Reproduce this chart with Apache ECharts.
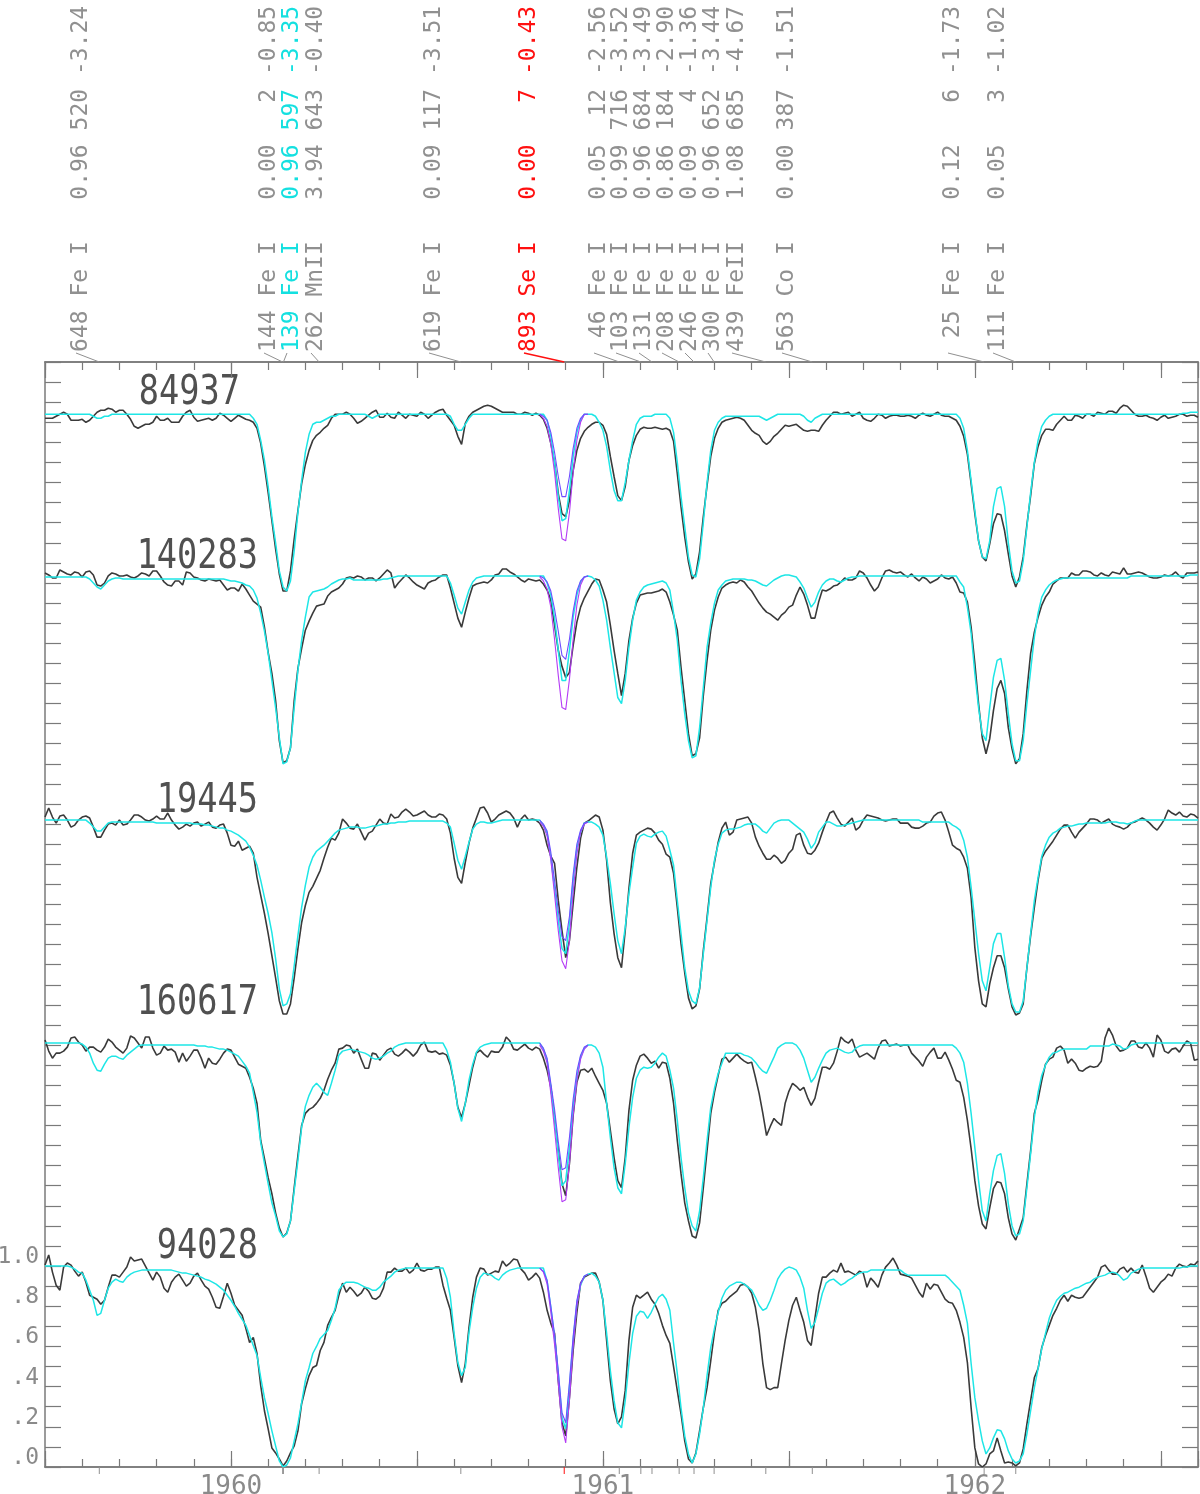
<!DOCTYPE html>
<html>
<head>
<meta charset="utf-8">
<title>Se I 1960.9 nm</title>
<script src="https://cdn.jsdelivr.net/npm/echarts@6/dist/echarts.min.js"></script>
<style>
html, body { margin: 0; padding: 0; background: #fff; }
#box-view { width: 1200px; height: 1494px; }
</style>
</head>
<body>
<div id="box-view"></div>
<script>
// wavelength grid of all spectra (nm)
const waveStart = 1959.50;
const waveStep = 0.01;

const starNames = ['84937', '140283', '19445', '160617', '94028'];
const starOffsets = [4.25, 3.44, 2.22, 1.11, 0];

// observed, normalised flux
const obs84937 = [
0.97,0.97,0.97,0.98,0.99,1.0,0.99,0.96,0.96,0.96,
0.965,0.95,0.96,0.98,1.0,1.01,1.01,1.02,1.015,1.0,
1.01,1.01,0.99,0.965,0.93,0.92,0.93,0.94,0.94,0.95,
0.98,0.96,0.96,0.97,0.95,0.95,0.95,0.98,1.0,1.01,
0.975,0.955,0.96,0.965,0.97,0.96,0.97,0.995,0.985,0.97,
0.955,0.97,0.985,0.975,0.965,0.96,0.95,0.92,0.845,0.73,
0.60,0.46,0.32,0.195,0.11,0.11,0.21,0.37,0.51,0.645,
0.74,0.81,0.86,0.885,0.90,0.92,0.935,0.97,0.99,0.99,
0.99,1.0,0.99,0.97,0.945,0.955,0.97,0.985,1.0,1.01,
0.975,0.975,0.995,0.975,0.97,1.0,0.985,0.97,0.99,0.985,
0.98,1.0,0.99,0.97,0.985,1.0,1.01,1.015,0.985,0.96,
0.935,0.88,0.84,0.945,0.98,1.0,1.01,1.02,1.03,1.035,
1.03,1.02,1.01,1.0,1.0,1.0,1.0,0.99,0.99,1.0,
0.995,0.985,0.995,0.985,0.965,0.92,0.845,0.75,0.595,0.495,
0.48,0.56,0.71,0.81,0.87,0.905,0.925,0.94,0.95,0.95,
0.935,0.89,0.78,0.68,0.585,0.56,0.63,0.76,0.835,0.885,
0.915,0.925,0.92,0.92,0.925,0.92,0.915,0.92,0.91,0.855,
0.695,0.53,0.38,0.255,0.17,0.195,0.305,0.48,0.635,0.78,
0.87,0.92,0.95,0.96,0.965,0.97,0.975,0.97,0.96,0.935,
0.91,0.895,0.885,0.855,0.84,0.855,0.88,0.895,0.915,0.935,
0.93,0.935,0.94,0.925,0.91,0.905,0.91,0.91,0.905,0.935,
0.96,0.98,1.0,1.0,0.99,0.995,1.0,0.98,0.99,1.0,
0.97,0.96,0.955,0.97,0.99,0.985,0.97,0.98,0.985,0.985,
0.98,0.98,0.985,0.98,0.97,0.985,0.995,0.985,0.98,0.99,
1.0,0.985,0.98,0.98,0.97,0.96,0.93,0.88,0.79,0.645,
0.495,0.36,0.28,0.26,0.345,0.445,0.495,0.49,0.41,0.295,
0.185,0.13,0.18,0.28,0.44,0.585,0.745,0.83,0.885,0.915,
0.915,0.91,0.94,0.96,0.98,0.96,0.96,0.985,0.98,0.97,
0.99,0.99,0.98,1.0,0.995,0.99,1.005,1.005,0.995,1.02,
1.035,1.03,1.01,0.99,0.98,0.98,0.985,0.975,0.97,0.96,
0.975,0.985,0.97,0.975,0.98,0.99,0.99,0.98,0.985,0.985,0.975
];
const obs140283 = [
1.01,1.0,0.985,0.985,1.025,1.015,1.005,1.0,1.015,1.01,
0.99,1.015,1.02,1.0,0.95,0.945,0.96,0.995,1.01,1.005,
0.995,0.995,1.0,0.99,0.985,0.995,1.01,1.005,0.995,1.02,
1.02,0.995,0.965,0.95,0.945,0.97,0.97,0.95,1.015,1.01,
0.99,0.985,0.975,0.97,0.98,0.975,0.97,0.975,0.95,0.925,
0.935,0.935,0.92,0.955,0.93,0.90,0.87,0.855,0.84,0.74,
0.615,0.51,0.375,0.175,0.065,0.075,0.14,0.375,0.535,0.635,
0.725,0.77,0.81,0.845,0.85,0.855,0.895,0.915,0.925,0.935,
0.955,0.985,0.99,0.985,0.995,0.99,0.975,0.985,0.985,0.97,
0.985,1.005,1.025,1.01,0.935,0.96,0.98,1.0,0.985,0.965,
0.95,0.94,0.93,0.96,0.97,0.975,0.99,1.0,1.0,0.935,
0.86,0.785,0.74,0.815,0.885,0.945,0.955,0.96,0.965,0.96,
0.975,1.0,1.005,1.03,1.03,1.015,1.005,0.99,0.975,0.965,
0.98,0.975,0.97,0.975,0.955,0.925,0.875,0.75,0.625,0.545,
0.49,0.515,0.65,0.765,0.84,0.885,0.92,0.955,0.98,0.975,
0.925,0.865,0.75,0.625,0.51,0.40,0.51,0.675,0.785,0.86,
0.90,0.905,0.91,0.91,0.915,0.92,0.93,0.915,0.865,0.80,
0.725,0.54,0.375,0.21,0.10,0.11,0.19,0.40,0.575,0.725,
0.825,0.89,0.935,0.95,0.96,0.965,0.96,0.975,0.965,0.94,
0.92,0.89,0.86,0.835,0.815,0.805,0.79,0.775,0.80,0.815,
0.84,0.85,0.90,0.94,0.905,0.85,0.785,0.785,0.865,0.925,
0.92,0.93,0.945,0.95,0.965,0.985,0.975,0.975,0.985,1.02,
1.01,0.985,0.95,0.92,0.94,0.985,1.02,1.025,1.015,1.01,
1.015,1.0,0.99,1.005,0.985,0.97,0.99,0.98,0.96,0.97,
0.98,1.0,0.985,0.98,0.99,0.96,0.915,0.91,0.865,0.74,
0.56,0.36,0.19,0.11,0.185,0.325,0.435,0.475,0.41,0.24,
0.135,0.06,0.085,0.21,0.425,0.61,0.715,0.79,0.85,0.89,
0.915,0.955,0.97,0.985,0.985,0.985,1.01,1.0,1.0,1.02,
1.02,1.015,1.0,0.995,1.01,1.0,0.995,1.015,1.01,1.005,
1.035,1.005,1.005,1.01,1.015,1.01,1.0,0.99,0.985,0.985,
0.99,1.0,0.995,1.0,1.015,0.995,0.985,1.01,1.01,1.01,1.015
];
const obs19445 = [
1.015,1.06,1.015,0.985,1.02,1.025,1.0,0.965,0.975,1.0,
1.015,1.02,1.01,0.965,0.915,0.915,0.95,0.98,0.985,0.975,
1.0,0.975,0.98,1.0,1.025,1.025,1.015,1.0,0.995,1.005,
1.02,1.005,1.005,1.035,1.0,0.975,0.955,0.965,0.98,0.97,
0.985,0.99,0.97,0.98,0.99,0.965,0.96,0.975,0.98,0.935,
0.875,0.87,0.895,0.85,0.86,0.87,0.835,0.715,0.625,0.535,
0.435,0.325,0.215,0.10,0.035,0.035,0.085,0.215,0.36,0.49,
0.575,0.64,0.67,0.71,0.75,0.81,0.865,0.91,0.90,0.935,
1.005,0.985,0.96,0.955,0.98,0.94,0.90,0.935,0.945,0.975,
1.005,0.985,0.98,1.03,1.01,1.015,1.04,1.055,1.04,1.02,
1.025,1.035,1.045,1.025,1.015,1.015,1.03,1.025,1.005,0.935,
0.81,0.715,0.685,0.79,0.885,0.96,1.01,1.06,1.065,1.035,
0.99,1.005,1.025,1.035,1.045,1.035,1.01,0.965,1.005,1.025,
1.0,1.005,1.0,0.985,0.95,0.875,0.82,0.785,0.60,0.45,
0.315,0.40,0.585,0.765,0.91,0.985,0.995,1.01,1.025,1.015,
0.95,0.80,0.59,0.435,0.315,0.265,0.45,0.66,0.835,0.925,
0.94,0.95,0.96,0.955,0.935,0.90,0.88,0.83,0.815,0.735,
0.565,0.385,0.24,0.115,0.06,0.075,0.16,0.35,0.515,0.685,
0.79,0.89,0.96,0.99,0.925,0.94,1.0,1.005,1.01,1.015,
0.985,0.915,0.87,0.835,0.805,0.805,0.825,0.81,0.785,0.80,
0.835,0.855,0.925,0.935,0.875,0.835,0.83,0.85,0.885,0.94,
0.99,1.035,1.045,1.01,0.98,0.97,0.99,1.01,0.95,0.965,
1.0,1.025,1.02,1.015,1.01,1.0,0.995,1.0,1.005,1.005,
0.985,0.985,0.985,0.965,0.96,0.96,0.97,0.985,0.99,1.02,
1.035,1.04,1.0,0.94,0.875,0.86,0.85,0.815,0.76,0.615,
0.365,0.20,0.085,0.07,0.185,0.265,0.325,0.325,0.265,0.16,
0.07,0.03,0.04,0.085,0.265,0.425,0.565,0.70,0.81,0.845,
0.87,0.895,0.925,0.955,0.975,0.975,0.94,0.91,0.94,0.96,
0.98,1.005,1.005,1.0,0.985,0.995,1.005,0.98,0.97,0.965,
0.955,0.965,0.985,0.99,1.0,1.01,1.0,0.985,0.965,0.95,
0.975,1.005,1.05,1.035,1.025,1.04,1.02,1.015,1.03,1.025,1.01
];
const obs160617 = [
1.015,0.96,0.925,0.95,0.95,0.96,0.98,1.025,1.03,1.005,
0.99,0.96,0.98,0.98,0.965,0.955,0.98,1.02,1.005,0.98,
0.965,0.95,0.975,1.035,1.025,1.0,0.975,1.03,1.03,0.975,
0.94,0.95,0.985,0.965,0.97,0.955,0.905,0.95,0.91,0.935,
0.965,0.965,0.925,0.875,0.925,0.90,0.895,0.92,0.95,0.97,
0.965,0.93,0.895,0.885,0.875,0.83,0.775,0.70,0.515,0.425,
0.33,0.25,0.155,0.08,0.035,0.055,0.115,0.28,0.44,0.59,
0.65,0.67,0.68,0.70,0.725,0.765,0.82,0.865,0.90,0.97,
0.975,0.99,0.985,0.95,0.97,0.92,0.875,0.875,0.95,0.945,
0.915,0.94,0.965,0.975,0.945,0.935,0.95,0.97,0.955,0.935,
0.955,0.99,1.005,0.96,0.955,0.96,0.945,0.95,0.94,0.89,
0.80,0.68,0.63,0.70,0.79,0.88,0.95,0.965,0.945,0.93,
0.96,0.955,0.955,0.98,1.03,1.01,0.97,0.965,0.98,0.995,
0.975,0.965,0.98,0.97,0.925,0.865,0.78,0.63,0.465,0.30,
0.24,0.40,0.64,0.805,0.865,0.87,0.855,0.875,0.835,0.80,
0.765,0.70,0.565,0.43,0.315,0.28,0.43,0.665,0.815,0.89,
0.935,0.945,0.925,0.90,0.91,0.875,0.905,0.90,0.825,0.70,
0.515,0.35,0.205,0.115,0.04,0.03,0.105,0.28,0.465,0.65,
0.755,0.84,0.92,0.93,0.905,0.925,0.945,0.925,0.91,0.90,
0.905,0.83,0.75,0.65,0.54,0.585,0.625,0.605,0.59,0.70,
0.76,0.80,0.785,0.765,0.78,0.73,0.69,0.725,0.805,0.88,
0.88,0.87,0.90,0.96,1.03,1.01,1.0,1.02,0.965,0.93,
0.94,0.95,0.935,0.92,0.975,1.01,1.015,0.985,0.99,0.995,
0.985,0.99,0.99,0.95,0.93,0.91,0.885,0.93,0.955,0.975,
0.925,0.925,0.955,0.915,0.87,0.815,0.805,0.73,0.615,0.475,
0.315,0.19,0.10,0.075,0.18,0.275,0.31,0.305,0.25,0.13,
0.05,0.02,0.075,0.13,0.30,0.465,0.65,0.72,0.815,0.895,
0.92,0.93,0.975,0.985,0.965,0.90,0.92,0.90,0.865,0.86,
0.875,0.885,0.88,0.885,0.91,1.025,1.075,1.04,0.985,0.96,
0.965,0.975,1.01,1.01,0.98,0.975,1.0,0.975,0.93,1.04,
1.015,0.96,0.95,0.97,0.975,0.955,0.985,1.01,1.0,0.915,0.92
];
const obs94028 = [
1.005,1.055,0.97,0.905,0.88,0.995,1.015,1.005,0.975,0.95,
0.97,0.92,0.855,0.845,0.835,0.81,0.83,0.895,0.955,0.955,
0.945,0.97,0.995,1.045,1.025,1.03,1.035,1.0,0.965,0.93,
0.97,0.945,0.89,0.87,0.92,0.945,0.96,0.93,0.90,0.915,
0.95,0.965,0.93,0.90,0.885,0.845,0.795,0.79,0.85,0.915,
0.865,0.805,0.78,0.755,0.69,0.62,0.645,0.565,0.405,0.28,
0.19,0.095,0.07,0.04,0.005,0.03,0.07,0.105,0.18,0.315,
0.39,0.455,0.495,0.505,0.58,0.62,0.705,0.745,0.78,0.855,
0.915,0.87,0.895,0.875,0.85,0.865,0.895,0.875,0.84,0.835,
0.85,0.89,0.97,0.97,0.99,0.975,0.975,0.99,0.965,0.98,
1.015,0.98,0.975,0.985,0.985,0.995,0.995,0.905,0.84,0.78,
0.645,0.505,0.42,0.515,0.695,0.845,0.945,0.99,0.985,0.955,
0.965,0.975,0.97,1.025,1.0,1.015,1.035,1.03,0.985,0.965,
0.93,0.945,0.965,0.94,0.87,0.78,0.715,0.665,0.43,0.22,
0.155,0.345,0.58,0.77,0.915,0.945,0.955,0.965,0.965,0.92,
0.83,0.63,0.43,0.29,0.215,0.25,0.38,0.63,0.795,0.855,
0.84,0.855,0.87,0.835,0.81,0.765,0.705,0.655,0.615,0.50,
0.38,0.265,0.13,0.04,0.02,0.07,0.18,0.295,0.395,0.53,
0.67,0.78,0.815,0.825,0.845,0.86,0.875,0.905,0.91,0.895,
0.865,0.795,0.68,0.515,0.395,0.385,0.395,0.395,0.515,0.63,
0.73,0.805,0.845,0.78,0.72,0.63,0.605,0.74,0.865,0.945,
0.945,0.965,0.98,0.97,1.015,0.97,0.975,0.965,0.955,0.975,
0.965,0.895,0.94,0.92,0.895,0.955,0.995,1.015,1.04,1.005,
0.96,0.955,0.95,0.94,0.905,0.87,0.845,0.915,0.885,0.91,
0.905,0.87,0.835,0.82,0.815,0.78,0.72,0.645,0.52,0.295,
0.095,0.015,0.0,0.015,0.065,0.08,0.145,0.08,0.02,0.025,
0.02,0.005,0.02,0.09,0.215,0.33,0.445,0.49,0.595,0.655,
0.705,0.755,0.79,0.83,0.855,0.825,0.855,0.845,0.84,0.845,
0.87,0.895,0.92,0.945,0.995,1.005,0.98,0.96,0.96,0.985,
0.995,0.97,0.99,0.97,0.965,1.005,0.95,0.89,0.87,0.895,
0.92,0.935,0.96,0.95,0.99,1.01,1.0,0.995,1.01,1.005,1.025
];

// best synthetic spectrum
const syn84937 = [
0.99,0.99,0.99,0.99,0.99,0.99,0.99,0.99,0.99,0.99,
0.99,0.99,0.99,0.98,0.97,0.97,0.98,0.98,0.99,0.99,
0.99,0.99,0.99,0.99,0.99,0.99,0.99,0.99,0.99,0.99,
0.99,0.99,0.99,0.99,0.99,0.99,0.99,0.99,0.99,0.99,
0.99,0.99,0.99,0.99,0.99,0.99,0.99,0.99,0.99,0.99,
0.99,0.99,0.99,0.99,0.99,0.99,0.97,0.94,0.86,0.76,
0.63,0.48,0.35,0.21,0.13,0.11,0.16,0.31,0.50,0.66,
0.80,0.89,0.94,0.95,0.95,0.96,0.97,0.98,0.98,0.99,
0.99,0.99,0.99,0.99,0.99,0.99,0.99,0.98,0.97,0.98,
0.99,0.99,0.99,0.99,0.99,0.99,0.99,0.99,0.99,0.99,
0.99,0.99,0.99,0.99,0.99,0.99,0.99,0.99,0.99,0.98,
0.94,0.91,0.91,0.94,0.97,0.99,0.99,0.99,0.99,0.99,
0.99,0.99,0.99,0.99,0.99,0.99,0.99,0.99,0.99,0.99,
0.99,0.99,0.99,0.99,0.99,0.96,0.88,0.75,0.58,0.46,
0.47,0.61,0.78,0.90,0.96,0.99,0.99,0.99,0.98,0.95,
0.91,0.83,0.71,0.61,0.56,0.56,0.65,0.76,0.86,0.94,
0.97,0.98,0.98,0.98,0.99,0.99,0.99,0.99,0.97,0.90,
0.75,0.58,0.43,0.28,0.19,0.18,0.27,0.45,0.65,0.81,
0.91,0.95,0.97,0.98,0.98,0.98,0.98,0.98,0.98,0.98,
0.98,0.98,0.98,0.97,0.96,0.97,0.98,0.99,0.99,0.99,
0.99,0.99,0.99,0.99,0.98,0.96,0.95,0.97,0.98,0.99,
0.99,0.99,0.99,0.99,0.99,0.99,0.99,0.99,0.99,0.99,
0.99,0.99,0.99,0.99,0.99,0.99,0.99,0.99,0.99,0.99,
0.99,0.99,0.99,0.99,0.99,0.99,0.99,0.99,0.99,0.99,
0.99,0.99,0.99,0.99,0.99,0.99,0.97,0.92,0.81,0.66,
0.51,0.36,0.28,0.27,0.36,0.53,0.62,0.63,0.53,0.35,
0.21,0.15,0.16,0.26,0.43,0.60,0.75,0.86,0.93,0.96,
0.98,0.99,0.99,0.99,0.99,0.99,0.99,0.99,0.99,0.99,
0.99,0.99,0.99,0.99,0.99,0.99,0.99,0.99,0.99,0.99,
0.99,0.99,0.99,0.99,0.99,0.99,0.99,0.99,0.99,0.99,
0.99,0.99,0.99,0.99,0.99,0.99,0.995,0.995,1.0,1.0,1.0
];
const syn140283 = [
0.99,0.99,0.99,0.99,0.99,0.99,0.99,0.99,0.99,0.99,
0.99,0.99,0.98,0.96,0.94,0.93,0.95,0.97,0.98,0.985,
0.985,0.98,0.98,0.98,0.98,0.98,0.98,0.98,0.98,0.98,
0.98,0.98,0.98,0.98,0.98,0.98,0.98,0.98,0.98,0.98,
0.98,0.98,0.98,0.98,0.98,0.98,0.98,0.98,0.98,0.975,
0.97,0.97,0.965,0.96,0.95,0.945,0.925,0.885,0.81,0.72,
0.61,0.475,0.34,0.19,0.06,0.07,0.14,0.34,0.525,0.675,
0.79,0.89,0.915,0.92,0.925,0.93,0.94,0.955,0.965,0.975,
0.98,0.98,0.985,0.975,0.975,0.975,0.975,0.975,0.975,0.975,
0.975,0.98,0.98,0.985,0.99,0.995,0.995,0.995,0.995,0.995,
0.995,0.995,0.995,0.995,0.995,0.995,0.995,0.995,0.995,0.96,
0.90,0.835,0.805,0.865,0.925,0.965,0.985,0.99,0.995,0.995,
0.995,0.995,0.995,0.995,0.995,0.995,0.995,0.995,0.995,0.995,
0.995,0.995,0.995,0.995,0.995,0.96,0.90,0.785,0.625,0.475,
0.475,0.625,0.79,0.90,0.965,0.99,0.995,0.99,0.975,0.945,
0.875,0.775,0.64,0.515,0.39,0.36,0.475,0.64,0.775,0.875,
0.915,0.94,0.95,0.955,0.96,0.965,0.97,0.96,0.925,0.81,
0.675,0.475,0.31,0.175,0.09,0.10,0.24,0.44,0.64,0.76,
0.86,0.925,0.95,0.97,0.975,0.98,0.98,0.98,0.98,0.975,
0.975,0.97,0.96,0.95,0.945,0.96,0.975,0.985,0.995,1.0,
1.0,0.995,0.99,0.965,0.935,0.885,0.84,0.865,0.915,0.95,
0.97,0.98,0.98,0.97,0.965,0.975,0.985,0.99,0.99,0.995,
0.995,0.995,0.995,0.995,0.995,0.995,0.995,0.995,0.995,0.995,
0.995,0.995,0.995,0.995,0.995,0.995,0.995,0.995,0.995,0.995,
0.995,0.995,0.995,0.995,0.995,0.995,0.965,0.94,0.84,0.71,
0.51,0.34,0.21,0.175,0.34,0.49,0.575,0.585,0.475,0.31,
0.16,0.075,0.075,0.175,0.36,0.525,0.69,0.81,0.89,0.925,
0.95,0.965,0.975,0.98,0.985,0.985,0.985,0.985,0.985,0.985,
0.985,0.985,0.985,0.985,0.985,0.985,0.985,0.985,0.985,0.985,
0.985,0.985,0.995,0.995,0.995,0.995,0.995,0.995,0.995,0.995,
0.995,0.995,0.995,0.995,0.995,0.995,0.995,0.995,1.0,1.0,1.0
];
const syn19445 = [
1.0,1.0,1.0,1.0,1.0,1.0,1.0,1.0,1.0,1.0,
1.0,1.0,0.985,0.965,0.945,0.945,0.965,0.985,0.99,0.99,
0.99,0.99,0.99,0.99,0.99,0.99,0.99,0.99,0.99,0.99,
0.985,0.985,0.985,0.985,0.985,0.985,0.985,0.985,0.985,0.985,
0.98,0.98,0.98,0.975,0.975,0.97,0.965,0.96,0.96,0.95,
0.945,0.935,0.925,0.91,0.895,0.865,0.825,0.775,0.70,0.615,
0.535,0.44,0.31,0.16,0.075,0.085,0.135,0.275,0.425,0.565,
0.675,0.765,0.815,0.845,0.86,0.875,0.895,0.915,0.935,0.95,
0.955,0.96,0.965,0.965,0.965,0.96,0.96,0.965,0.97,0.97,
0.975,0.98,0.98,0.985,0.985,0.99,0.99,0.99,0.995,0.995,
0.995,0.995,0.995,0.995,0.995,0.995,0.995,0.995,0.985,0.965,
0.885,0.80,0.755,0.82,0.89,0.955,0.98,0.99,0.99,0.985,
0.985,0.99,0.995,1.0,1.0,1.0,1.0,1.0,1.0,1.0,
1.0,1.0,1.0,1.0,0.975,0.935,0.815,0.66,0.50,0.36,
0.335,0.485,0.70,0.86,0.94,0.985,0.99,0.99,0.98,0.965,
0.925,0.815,0.685,0.535,0.40,0.335,0.465,0.635,0.765,0.885,
0.92,0.93,0.92,0.915,0.93,0.94,0.945,0.92,0.85,0.775,
0.60,0.435,0.265,0.15,0.10,0.085,0.165,0.335,0.50,0.665,
0.80,0.88,0.935,0.95,0.955,0.955,0.96,0.965,0.975,0.98,
0.98,0.98,0.965,0.945,0.935,0.96,0.985,0.995,1.0,1.0,
1.0,0.985,0.97,0.955,0.94,0.905,0.86,0.885,0.94,0.965,
0.99,0.99,0.98,0.97,0.97,0.975,0.98,0.985,0.99,0.995,
1.0,1.0,1.0,1.0,1.0,1.0,1.0,1.0,1.0,1.0,
1.0,1.0,1.0,1.0,1.0,1.0,0.99,0.99,0.99,0.99,
0.99,0.99,0.99,0.99,0.975,0.965,0.95,0.90,0.815,0.665,
0.50,0.335,0.20,0.15,0.265,0.385,0.435,0.435,0.315,0.175,
0.085,0.045,0.045,0.10,0.265,0.435,0.60,0.715,0.82,0.875,
0.915,0.935,0.945,0.96,0.965,0.97,0.97,0.975,0.98,0.98,
0.985,0.985,0.985,0.985,0.985,0.985,0.99,0.99,0.99,0.985,
0.985,0.98,0.985,0.995,1.0,1.0,1.0,1.0,1.0,1.0,
1.0,1.0,1.0,1.0,1.0,1.0,1.0,1.0,1.0,1.0,1.0
];
const syn160617 = [
1.0,1.0,1.0,1.0,1.0,1.0,1.0,1.0,1.0,1.0,
0.995,0.98,0.95,0.90,0.865,0.86,0.895,0.925,0.935,0.935,
0.925,0.92,0.94,0.955,0.97,0.985,0.99,0.99,0.99,0.99,
0.99,0.99,0.99,0.99,0.99,0.99,0.99,0.99,0.99,0.99,
0.99,0.985,0.985,0.985,0.98,0.98,0.975,0.97,0.97,0.965,
0.955,0.945,0.935,0.91,0.885,0.85,0.755,0.655,0.505,0.40,
0.30,0.205,0.14,0.065,0.035,0.05,0.115,0.265,0.415,0.58,
0.685,0.74,0.78,0.80,0.78,0.755,0.74,0.80,0.865,0.94,
0.96,0.965,0.97,0.965,0.96,0.955,0.95,0.94,0.925,0.92,
0.925,0.935,0.95,0.96,0.98,0.99,0.995,1.0,1.0,1.0,
1.0,1.0,1.0,1.0,1.0,1.0,1.0,1.0,0.965,0.905,
0.80,0.675,0.61,0.70,0.815,0.895,0.955,0.98,0.99,0.995,
1.0,1.0,1.0,1.0,1.0,1.0,1.0,1.0,1.0,1.0,
1.0,1.0,1.0,1.0,0.97,0.915,0.78,0.63,0.45,0.29,
0.315,0.48,0.69,0.83,0.93,0.975,0.99,0.99,0.98,0.95,
0.88,0.70,0.53,0.38,0.28,0.25,0.40,0.58,0.73,0.825,
0.865,0.88,0.875,0.88,0.90,0.93,0.95,0.935,0.865,0.775,
0.615,0.43,0.28,0.155,0.09,0.065,0.165,0.33,0.515,0.68,
0.775,0.85,0.90,0.95,0.95,0.95,0.95,0.95,0.94,0.935,
0.925,0.905,0.88,0.86,0.85,0.89,0.93,0.975,0.99,1.0,
1.0,1.0,0.99,0.965,0.925,0.865,0.805,0.83,0.875,0.915,
0.95,0.965,0.97,0.975,0.965,0.955,0.95,0.955,0.975,0.985,
0.99,0.99,0.99,0.99,0.99,0.99,0.99,0.99,0.99,0.99,
0.99,0.99,0.99,0.99,0.99,0.99,0.99,0.99,0.99,0.99,
0.99,0.99,0.99,0.99,0.99,0.975,0.95,0.905,0.80,0.65,
0.48,0.315,0.165,0.115,0.25,0.365,0.44,0.45,0.35,0.20,
0.09,0.04,0.05,0.115,0.28,0.45,0.63,0.755,0.84,0.89,
0.93,0.95,0.955,0.965,0.97,0.97,0.97,0.97,0.97,0.97,
0.97,0.985,0.985,0.985,0.985,0.985,0.985,0.995,0.99,0.985,
0.97,0.975,0.99,0.995,1.0,1.0,1.0,1.0,1.0,1.0,
1.0,1.0,1.0,1.0,1.0,1.0,1.0,1.0,1.0,1.0,1.0
];
const syn94028 = [
1.0,1.0,1.0,1.0,1.0,1.0,1.0,0.995,0.985,0.97,
0.965,0.93,0.88,0.83,0.755,0.765,0.83,0.89,0.92,0.935,
0.925,0.92,0.945,0.96,0.97,0.975,0.98,0.98,0.98,0.98,
0.98,0.98,0.98,0.98,0.98,0.975,0.97,0.965,0.965,0.96,
0.955,0.95,0.945,0.935,0.93,0.92,0.91,0.895,0.88,0.855,
0.83,0.80,0.765,0.735,0.705,0.655,0.605,0.555,0.445,0.345,
0.265,0.18,0.105,0.03,0.0,0.01,0.045,0.13,0.215,0.32,
0.43,0.495,0.565,0.60,0.64,0.66,0.68,0.73,0.79,0.88,
0.905,0.92,0.92,0.92,0.915,0.905,0.895,0.89,0.88,0.88,
0.895,0.92,0.935,0.95,0.97,0.98,0.985,0.99,0.99,0.99,
0.99,0.99,0.99,0.99,0.99,0.99,0.99,0.99,0.94,0.845,
0.665,0.52,0.455,0.495,0.67,0.795,0.89,0.945,0.965,0.96,
0.955,0.94,0.93,0.955,0.97,0.98,0.985,0.99,0.99,0.99,
0.99,0.99,0.99,0.99,0.99,0.925,0.795,0.645,0.465,0.245,
0.19,0.395,0.63,0.815,0.905,0.95,0.96,0.965,0.95,0.92,
0.83,0.665,0.48,0.33,0.22,0.195,0.33,0.515,0.665,0.75,
0.775,0.77,0.74,0.77,0.81,0.845,0.86,0.835,0.78,0.615,
0.465,0.295,0.155,0.065,0.02,0.065,0.165,0.295,0.455,0.595,
0.69,0.77,0.84,0.88,0.90,0.91,0.92,0.92,0.91,0.895,
0.88,0.845,0.805,0.78,0.79,0.83,0.88,0.935,0.965,0.985,
0.995,0.99,0.98,0.945,0.89,0.78,0.69,0.72,0.79,0.865,
0.915,0.93,0.935,0.92,0.905,0.915,0.93,0.94,0.955,0.965,
0.97,0.97,0.98,0.98,0.98,0.98,0.98,0.98,0.98,0.98,
0.98,0.965,0.955,0.955,0.955,0.955,0.955,0.955,0.955,0.955,
0.955,0.955,0.955,0.94,0.92,0.90,0.88,0.805,0.715,0.515,
0.345,0.23,0.13,0.065,0.095,0.145,0.185,0.18,0.14,0.08,
0.04,0.02,0.03,0.065,0.165,0.28,0.395,0.49,0.59,0.665,
0.74,0.79,0.83,0.85,0.865,0.87,0.88,0.89,0.895,0.905,
0.915,0.92,0.935,0.945,0.95,0.955,0.965,0.97,0.965,0.95,
0.93,0.94,0.965,0.975,0.985,0.99,0.99,0.99,0.99,0.99,
0.99,0.99,0.99,0.99,0.99,0.99,0.995,0.995,1.0,1.0,1.0
];

// Se abundance variants, grid points 133..146 only
const seFirstIndex = 133;
const seHigh = [
[0.99,0.97,0.93,0.84,0.70,0.52,0.37,0.36,0.50,0.70,0.86,0.95,0.99,0.99],
[0.99,0.97,0.93,0.84,0.68,0.50,0.34,0.33,0.48,0.68,0.85,0.95,0.99,0.995],
[0.99,0.97,0.92,0.80,0.63,0.45,0.30,0.26,0.40,0.64,0.83,0.94,0.98,0.99],
[0.99,0.96,0.90,0.75,0.57,0.38,0.21,0.22,0.40,0.64,0.81,0.92,0.97,0.99],
[0.99,0.97,0.91,0.77,0.61,0.42,0.20,0.12,0.33,0.60,0.80,0.91,0.95,0.96]
];
const seLow = [
[0.99,0.98,0.96,0.90,0.80,0.68,0.58,0.58,0.68,0.82,0.92,0.97,0.99,0.99],
[0.995,0.985,0.965,0.92,0.83,0.72,0.60,0.58,0.68,0.82,0.92,0.97,0.99,0.995],
[1.0,0.98,0.945,0.84,0.70,0.55,0.42,0.40,0.52,0.73,0.88,0.95,0.985,0.99],
[1.0,0.975,0.925,0.80,0.67,0.51,0.37,0.38,0.53,0.72,0.86,0.94,0.98,0.99],
[0.99,0.975,0.93,0.80,0.66,0.48,0.27,0.22,0.42,0.65,0.83,0.915,0.95,0.96]
];

// line identifications
const lineWave = [1959.646, 1960.139, 1960.141, 1960.237, 1960.618, 1960.896, 1961.044, 1961.102,
                  1961.132, 1961.205, 1961.245, 1961.299, 1961.438, 1961.563, 1962.025, 1962.110];
const lineText = [
  '648 Fe I   0.96 520 -3.24',
  '144 Fe I   0.00   2 -0.85',
  '139 Fe I   0.96 597 -3.35',
  '262 MnII   3.94 643 -0.40',
  '619 Fe I   0.09 117 -3.51',
  '893 Se I   0.00   7 -0.43',
  ' 46 Fe I   0.05  12 -2.56',
  '103 Fe I   0.99 716 -3.52',
  '131 Fe I   0.96 684 -3.49',
  '208 Fe I   0.86 184 -2.90',
  '246 Fe I   0.09   4 -1.36',
  '300 Fe I   0.96 652 -3.44',
  '439 FeII   1.08 685 -4.67',
  '563 Co I   0.00 387 -1.51',
  ' 25 Fe I   0.12   6 -1.73',
  '111 Fe I   0.05   3 -1.02'
];
const lineKind = [0, 0, 1, 0, 0, 2, 0, 0, 0, 0, 0, 0, 0, 0, 0, 0];

// layout (px)
const labelX = [81, 269, 292, 316, 434, 529, 599, 621, 644, 667, 690, 713, 737, 787, 953, 998];
const nameRight = [240, 258, 258, 258, 258];
const nameMid = [393, 557, 801, 1003, 1247];

const obsList = [obs84937, obs140283, obs19445, obs160617, obs94028];
const synList = [syn84937, syn140283, syn19445, syn160617, syn94028];

const xMin = 1959.5, xMax = 1962.6, yMin = 0, yMax = 5.5;
const axisGray = '#7a7a7a';
const idColors = ['#909090', '#14e0e0', '#ff1010'];
const monoFont = '"DejaVu Sans Mono", "Liberation Mono", monospace';

function toPoints(flux, offset, first) {
  return flux.map((f, i) => [waveStart + (first + i) * waveStep, f + offset]);
}

let series = [];
starNames.forEach((name, k) => {
  const off = starOffsets[k];
  series.push({
    name: name + ' obs', type: 'line', data: toPoints(obsList[k], off, 0),
    showSymbol: false, symbol: 'none', silent: true, z: 2,
    lineStyle: { color: '#3a3a3a', width: 1.6 }
  });
  series.push({
    name: name + ' syn', type: 'line', data: toPoints(synList[k], off, 0),
    showSymbol: false, symbol: 'none', silent: true, z: 3,
    lineStyle: { color: '#1ee6e6', width: 1.5 }
  });
  series.push({
    name: name + ' Se+', type: 'line', data: toPoints(seHigh[k], off, seFirstIndex),
    showSymbol: false, symbol: 'none', silent: true, z: 4,
    lineStyle: { color: '#b43cf5', width: 1.1 }
  });
  series.push({
    name: name + ' Se-', type: 'line', data: toPoints(seLow[k], off, seFirstIndex),
    showSymbol: false, symbol: 'none', silent: true, z: 4,
    lineStyle: { color: '#6f4cff', width: 1.1 }
  });
});

// line ID labels, connectors and the small marks under the bottom axis
series.push({
  type: 'custom', clip: false, silent: true, z: 5,
  data: lineWave.map(w => [w, 0]),
  renderItem: function (params, api) {
    const i = params.dataIndex;
    const top = api.coord([api.value(0), yMax]);
    const bot = api.coord([api.value(0), yMin]);
    const col = idColors[lineKind[i]];
    const lx = labelX[i];
    const isSe = lineKind[i] === 2;
    return {
      type: 'group',
      children: [
        { type: 'line', shape: { x1: lx - 5, y1: top[1] - 9, x2: top[0], y2: top[1] },
          style: { stroke: isSe ? col : idColors[0], lineWidth: isSe ? 1.6 : 1 } },
        { type: 'line', shape: { x1: bot[0], y1: bot[1], x2: bot[0], y2: bot[1] + 7 },
          style: { stroke: isSe ? col : idColors[0], lineWidth: 1 } },
        { type: 'text', x: lx, y: top[1] - 10, rotation: Math.PI / 2,
          style: { text: lineText[i], fill: col, font: '23px ' + monoFont,
                   align: 'left', verticalAlign: 'middle', textAlign: 'left', textVerticalAlign: 'middle' } }
      ]
    };
  }
});

function xAxisDef(pos, step, tickLen, withLabels) {
  return {
    type: 'value', position: pos, min: xMin, max: xMax, interval: step,
    axisLine: { show: true, onZero: false, lineStyle: { color: axisGray, width: 1.5 } },
    axisTick: { show: true, inside: true, length: tickLen, lineStyle: { color: axisGray, width: 1.2 } },
    axisLabel: {
      show: withLabels, margin: 7, color: '#8a8a8a', fontSize: 26, fontFamily: monoFont,
      formatter: v => (Math.abs(v - Math.round(v)) < 1e-6 ? String(Math.round(v)) : '')
    },
    splitLine: { show: false }
  };
}
function yAxisDef(pos, withLabels) {
  return {
    type: 'value', position: pos, min: yMin, max: yMax, interval: 0.1,
    axisLine: { show: true, onZero: false, lineStyle: { color: axisGray, width: 1.5 } },
    axisTick: { show: true, inside: true, length: 16, lineStyle: { color: axisGray, width: 1.2 } },
    axisLabel: {
      show: withLabels, margin: 6, color: '#8a8a8a', fontSize: 23, fontFamily: monoFont,
      verticalAlign: 'bottom', lineHeight: 18,
      formatter: function (v) {
        const t = Math.round(v * 10);
        if (t > 10 || t % 2 !== 0) return '';
        return t === 10 ? '1.0' : '.' + t;
      }
    },
    splitLine: { show: false }
  };
}

const option = {
  animation: false,
  backgroundColor: '#ffffff',
  grid: { left: 45, right: 2, top: 362, bottom: 27, containLabel: false, outerBoundsMode: 'none' },
  xAxis: [
    xAxisDef('bottom', 0.1, 8, true),
    xAxisDef('bottom', 0.5, 16, false),
    xAxisDef('top', 0.1, 8, false),
    xAxisDef('top', 0.5, 16, false)
  ],
  yAxis: [yAxisDef('left', true), yAxisDef('right', false)],
  graphic: starNames.map((n, k) => ({
    type: 'text', x: nameRight[k], y: nameMid[k], scaleX: 1.12, scaleY: 1.37, silent: true,
    style: { text: n, font: '30px ' + monoFont, fill: '#505050',
             align: 'right', verticalAlign: 'middle', textAlign: 'right', textVerticalAlign: 'middle' }
  })),
  series: series
};

const chart = echarts.init(document.getElementById('box-view'), null, { renderer: 'canvas' });
chart.setOption(option);
</script>
</body>
</html>
